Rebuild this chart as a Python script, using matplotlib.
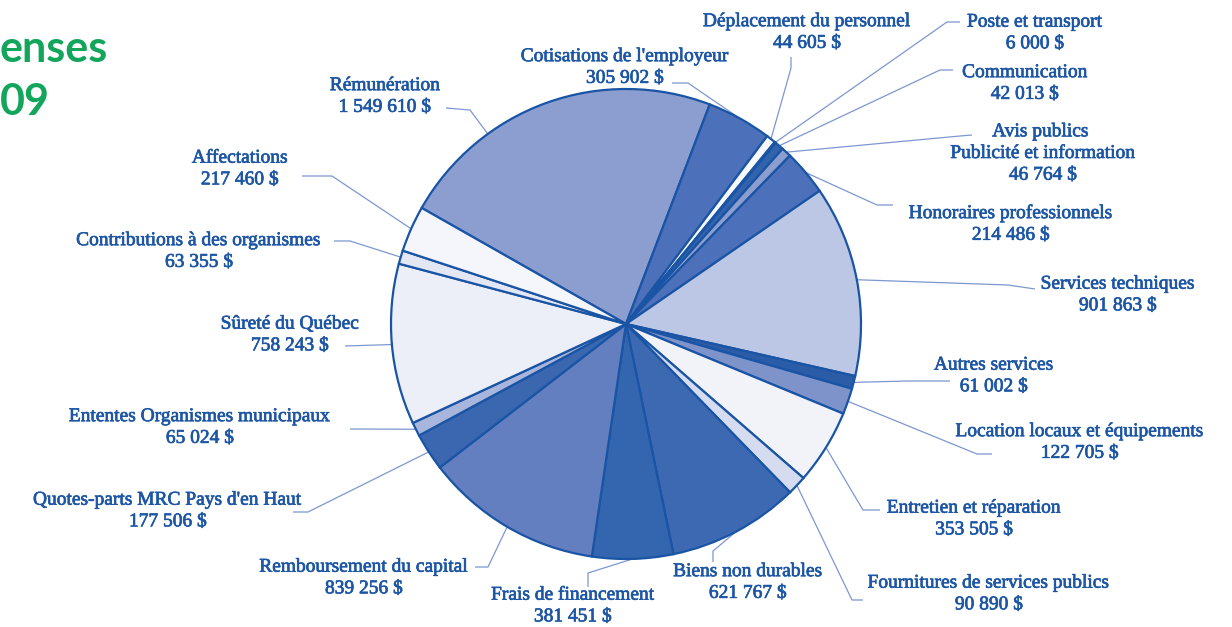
import numpy as np
import matplotlib
matplotlib.use("Agg")
import matplotlib.pyplot as plt
import matplotlib.patheffects as pe

# ---------------- data ----------------
categories = [
    "Rémunération", "Cotisations de l'employeur", "Déplacement du personnel",
    "Poste et transport", "Communication", "Avis publics,\nPublicité et information",
    "Honoraires professionnels", "Services techniques", "Autres services",
    "Location locaux et équipements", "Entretien et réparation",
    "Fournitures de services publics", "Biens non durables", "Frais de financement",
    "Remboursement du capital", "Quotes-parts MRC Pays d'en Haut",
    "Ententes Organismes municipaux", "Sûreté du Québec",
    "Contributions à des organismes", "Affectations",
]
values = [
    1549610, 305902, 44605, 6000, 42013, 46764, 214486, 901863, 61002, 122705,
    353505, 90890, 621767, 381451, 839256, 177506, 65024, 758243, 63355, 217460,
]
colors = [
    "#8b9ecf", "#4d70ba", "#f8f9fd", "#2b5da9", "#3263ad", "#8b9ecf", "#4d70ba",
    "#bcc7e5", "#2a5ca8", "#7f93cb", "#f1f3f9", "#d6dcef", "#3d69b2", "#3366af",
    "#647fbf", "#3b67b0", "#a8b5dc", "#eceff8", "#e3e7f4", "#f5f6fb",
]
title_parts = ["enses", "09"]

# ---------------- layout (pixel coords, y from top) ----------------
W, H = 1232, 627
CX, CY, R = 626, 324, 235
START = 150.4
label_pos = [
    (385, 96.5), (625, 67.5), (807, 32.5), (1035, 33), (1025, 83.5), (1043, 153.5),
    (1011, 224), (1118, 295), (994, 376), (1080, 442.5), (974, 519), (989, 594),
    (748, 582.5), (573, 606), (364, 578), (168, 511), (200, 427.5), (290, 335),
    (199, 251.5), (240, 169),
]
leader_paths = [
    [(470, 110), (446, 108)],
    [(688, 83), (672, 83)],
    [(791, 68), (791, 57)],
    [(947, 22), (960, 22)],
    [(940, 70), (953, 70)],
    [(960, 136), (972, 135)],
    [(877, 205), (893, 205)],
    [(1008, 285), (1035, 289)],
    [(907, 381), (950, 381)],
    [(977, 454), (992, 454)],
    [(863, 510), (880, 510)],
    [(852, 600), (863, 600)],
    [(713, 551), (713, 562)],
    [(588, 573), (588, 587)],
    [(488, 567), (475, 567)],
    [(308, 512), (293, 512)],
    [(350, 429)],
    [(345, 346)],
    [(350, 241), (334, 241)],
    [(332, 176), (302, 176)],
]
anchor_frac = [0.30] + [0.5] * 19

TEXT_C = "#1d56a5"
EDGE_C = "#1a54a4"
LEAD_C = "#7d97d0"
GREEN = "#12a55b"

fig = plt.figure(figsize=(W / 100, H / 100), dpi=100)
ax = fig.add_axes([0, 0, 1, 1])

def Y(y):
    return H - y

wedges, _ = ax.pie(
    values, colors=colors, startangle=START, counterclock=False,
    center=(CX, Y(CY)), radius=R,
    wedgeprops=dict(edgecolor=EDGE_C, linewidth=1.6),
)
ax.set_xlim(0, W)
ax.set_ylim(0, H)
ax.set_aspect("auto")
ax.axis("off")

stroke = [pe.withStroke(linewidth=0.5, foreground=TEXT_C)]
for i, (w, name, val) in enumerate(zip(wedges, categories, values)):
    t1, t2 = w.theta1, w.theta2
    ang = np.deg2rad(t2 - anchor_frac[i] * (t2 - t1))
    ax0 = CX + R * np.cos(ang)
    ay0 = Y(CY) + R * np.sin(ang)
    xs = [ax0] + [p[0] for p in leader_paths[i]]
    ys = [ay0] + [Y(p[1]) for p in leader_paths[i]]
    ax.plot(xs, ys, color=LEAD_C, lw=0.9, solid_capstyle="butt", zorder=0)
    txt = f"{name}\n{val:,} $".replace(",", " ")
    tx, ty = label_pos[i]
    ax.text(tx, Y(ty), txt, ha="center", va="center", multialignment="center",
            fontsize=14, color=TEXT_C, family="Liberation Serif",
            linespacing=1.36, path_effects=stroke)

# visible part of the title (cut by the left edge in the original)
ax.text(0, Y(62), title_parts[0], ha="left", va="baseline", fontsize=31,
        color=GREEN, family="Lato", fontweight="bold")
ax.text(0, Y(115), title_parts[1], ha="left", va="baseline", fontsize=31,
        color=GREEN, family="Lato", fontweight="bold")

fig.savefig("out.png", dpi=100)
